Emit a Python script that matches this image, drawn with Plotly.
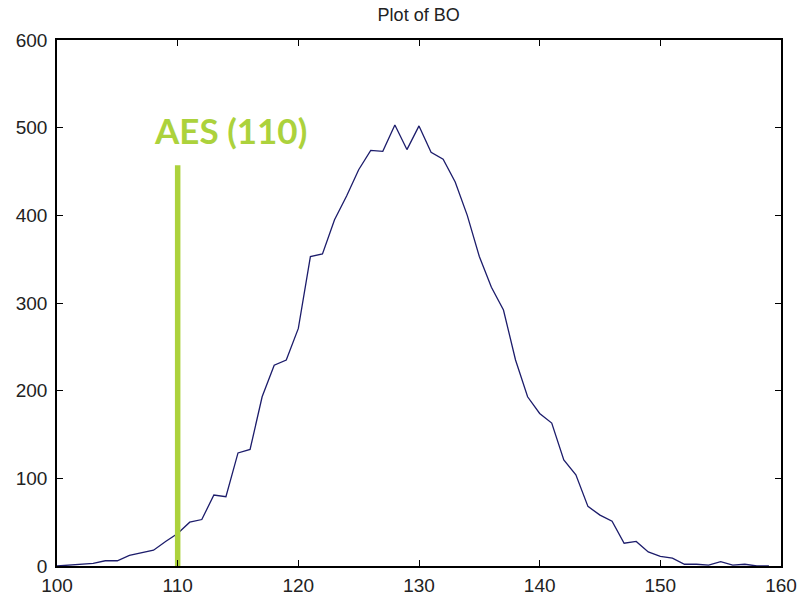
import plotly.graph_objects as go

x_vals = list(range(100, 160))
counts = [0, 1, 2, 3, 6, 6, 12, 15, 18, 28,
          37, 50, 53, 81, 79, 129, 133, 193, 229, 235,
          271, 353, 356, 395, 422, 452, 474, 473, 503, 475,
          502, 472, 464, 438, 400, 353, 318, 292, 235, 193,
          174, 163, 121, 104, 68, 58, 51, 26, 28, 16,
          11, 9, 2, 2, 1, 5, 1, 2, 0, 0]

aes_x = [110, 110]
aes_y = [0, 457]
aes_label = "AES (110)"
x_ticks = [100, 110, 120, 130, 140, 150, 160]
y_ticks = [0, 100, 200, 300, 400, 500, 600]

green = "#acd23c"

fig = go.Figure()
fig.add_trace(go.Scatter(x=x_vals, y=counts, mode="lines",
                         line=dict(color="#1c1c6b", width=1.3), showlegend=False))
fig.add_trace(go.Scatter(x=aes_x, y=aes_y, mode="lines",
                         line=dict(color=green, width=5.5), showlegend=False))

fig.add_annotation(x=114.35, y=497, xref="x", yref="y", text="<b>" + aes_label + "</b>",
                   showarrow=False, font=dict(family="Lato", size=35, color=green),
                   xanchor="center", yanchor="middle")

axis_common = dict(showline=True, linecolor="black", linewidth=1.5, mirror="ticks",
                   ticks="inside", ticklen=6, tickcolor="black", showgrid=False,
                   zeroline=False, automargin=False,
                   tickfont=dict(family="Liberation Sans", size=19, color="#222"))

fig.update_xaxes(range=[100, 160], tickvals=x_ticks, ticklabelstandoff=1, **axis_common)
fig.update_yaxes(range=[0, 600], tickvals=y_ticks, ticklabelstandoff=4, **axis_common)

fig.update_layout(
    width=802, height=601,
    margin=dict(l=57, r=21, t=40, b=35),
    paper_bgcolor="white", plot_bgcolor="white",
    title=dict(text="Plot of BO", x=0.522, xanchor="center", y=0.975, yanchor="middle",
               font=dict(family="Liberation Sans", size=18, color="#222")),
)

fig.write_html("out.html")
